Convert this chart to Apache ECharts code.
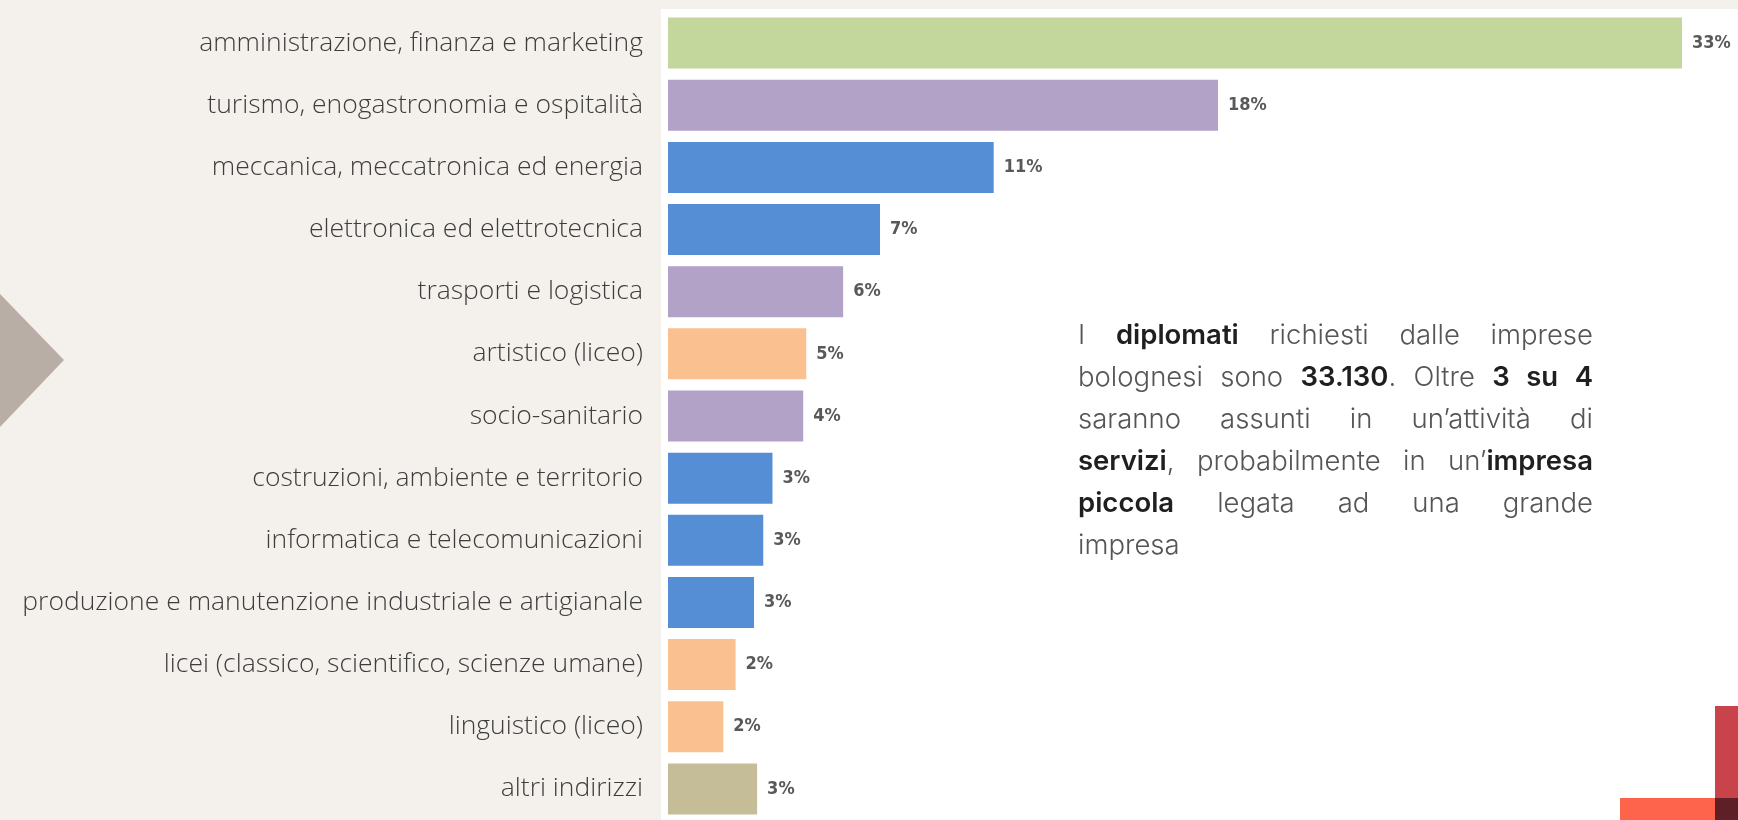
<!DOCTYPE html>
<html>
<head>
<meta charset="utf-8">
<script src="https://cdn.jsdelivr.net/npm/echarts@6/dist/echarts.min.js"></script>
<style>
  html, body { margin: 0; padding: 0; background: #f4f1ec; }
  #wrap { position: relative; width: 1738px; height: 820px; overflow: hidden; }
  #chart { position: absolute; left: 0; top: 0; width: 1738px; height: 820px; }
  #note {
    position: absolute; left: 1078px; top: 313px; width: 515px;
    font-family: Inter, Roboto, sans-serif; font-weight: 300; font-size: 27.5px;
    line-height: 42px; color: #555555;
  }
  #note div { text-align: justify; text-align-last: justify; white-space: nowrap; }
  #note div.last { text-align-last: left; }
  #note b { font-weight: 600; color: #1f1f1f; }
</style>
</head>
<body>
<div id="wrap">
  <div id="chart"></div>
  <div id="note">
    <div>I <b>diplomati</b> richiesti dalle imprese</div>
    <div>bolognesi sono <b>33.130</b>. Oltre <b>3 su 4</b></div>
    <div>saranno assunti in un’attività di</div>
    <div><b>servizi</b>, probabilmente in un’<b>impresa</b></div>
    <div><b>piccola</b> legata ad una grande</div>
    <div class="last">impresa</div>
  </div>
</div>
<script>
// ---- data ----
const categories = [
  'amministrazione, finanza e marketing',
  'turismo, enogastronomia e ospitalità',
  'meccanica, meccatronica ed energia',
  'elettronica ed elettrotecnica',
  'trasporti e logistica',
  'artistico (liceo)',
  'socio-sanitario',
  'costruzioni, ambiente e territorio',
  'informatica e telecomunicazioni',
  'produzione e manutenzione industriale e artigianale',
  'licei (classico, scientifico, scienze umane)',
  'linguistico (liceo)',
  'altri indirizzi'
];
const values = [33, 17.9, 10.6, 6.9, 5.7, 4.5, 4.4, 3.4, 3.1, 2.8, 2.2, 1.8, 2.9];
const pctLabels = ['33%', '18%', '11%', '7%', '6%', '5%', '4%', '3%', '3%', '3%', '2%', '2%', '3%'];
const groups = ['economico', 'servizi', 'tecnologico', 'tecnologico', 'servizi', 'liceo',
  'servizi', 'tecnologico', 'tecnologico', 'tecnologico', 'liceo', 'liceo', 'altri'];

// ---- styles ----
const groupColors = {
  economico: '#c3d69b',
  servizi: '#b3a2c7',
  tecnologico: '#558ed5',
  liceo: '#fac090',
  altri: '#c4bd97'
};

const chart = echarts.init(document.getElementById('chart'), null, { renderer: 'canvas' });
chart.setOption({
  backgroundColor: 'transparent',
  animation: false,
  grid: { left: 668, right: 56, top: 12, bottom: 0, containLabel: false },
  xAxis: { type: 'value', min: 0, max: 33, show: false },
  yAxis: {
    type: 'category', data: categories, inverse: true,
    axisLine: { show: false }, axisTick: { show: false }, splitLine: { show: false },
    axisLabel: {
      margin: 25, color: '#3d3d3d', fontFamily: 'Open Sans', fontWeight: 300, fontSize: 26.5
    }
  },
  graphic: [
    { type: 'rect', z: -10, silent: true, shape: { x: 661, y: 9, width: 1100, height: 830 }, style: { fill: '#ffffff' } },
    { type: 'polygon', z: 5, silent: true, shape: { points: [[0, 294], [64, 360], [0, 427]] }, style: { fill: '#b8aea5' } },
    { type: 'rect', z: 5, silent: true, shape: { x: 1715, y: 706, width: 30, height: 120 }, style: { fill: '#c9434a' } },
    { type: 'rect', z: 5, silent: true, shape: { x: 1620, y: 798, width: 95, height: 30 }, style: { fill: '#fe634c' } },
    { type: 'rect', z: 6, silent: true, shape: { x: 1715, y: 798, width: 30, height: 30 }, style: { fill: '#5e1f27' } }
  ],
  series: [{
    type: 'bar',
    barWidth: 51,
    data: values.map((v, i) => ({ value: v, itemStyle: { color: groupColors[groups[i]] } })),
    label: {
      show: true, position: 'right', distance: 10,
      formatter: p => pctLabels[p.dataIndex],
      fontFamily: "'Liberation Sans Narrow', 'DejaVu Sans Condensed', 'Liberation Sans', sans-serif",
      fontWeight: 'bold', fontSize: 18, color: '#595959'
    }
  }]
});
</script>
</body>
</html>
